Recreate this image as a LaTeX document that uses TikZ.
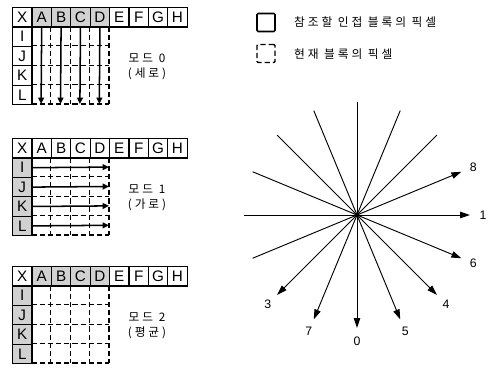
\documentclass[tikz,border=0pt]{standalone}
\usepackage{fontspec}
\setmainfont{Liberation Sans}
\newfontfamily\kr[LetterSpace=25]{Noto Sans CJK KR}
\usetikzlibrary{arrows.meta}

\tikzset{
  plain/.style={},
  shade/.style={fill=black!18},
  cell/.style={draw, line width=1pt, minimum size=0.582cm, inner sep=0pt, anchor=north west,
    font=\fontsize{13}{13}\selectfont},
  curline/.style={line width=1pt, dash pattern=on 4.5pt off 2.5pt},
  flow/.style={line width=1.3pt, -{Triangle[length=5.5pt,width=5pt]}},
  ray/.style={line width=0.8pt},
  dirlabel/.style={font=\fontsize{10.5}{10.5}\selectfont},
  modetext/.style={font=\kr\fontsize{10}{12.5}\selectfont, align=center},
  keytext/.style={font=\kr\fontsize{10}{11}\selectfont, anchor=west}
}

\begin{document}
\begin{tikzpicture}[x=0.03cm, y=0.03cm]
    \useasboundingbox (0,0) rectangle (489,367);

    % mode 0 (vertical)
    \begin{scope}[shift={(12,360)}]
        \foreach \t/\s [count=\i from 0] in {X/plain,A/shade,B/shade,C/shade,D/shade,E/plain,F/plain,G/plain,H/plain}
            \node[cell,\s] (vt\i) at (\i*19.4,0) {\t};
        \foreach \t [count=\j] in {I,J,K,L}
            \node[cell] (vl\j) at (0,-\j*19.4) {\t};
        \foreach \i in {2,...,5}
            \draw[curline] (\i*19.4,-19.4) -- (\i*19.4,-97);
        \foreach \j in {2,...,5}
            \draw[curline] (19.4,-\j*19.4) -- (97,-\j*19.4);
        \foreach \i in {1,...,4} {
            \coordinate (ve\i) at (\i*19.4+9.7,-97);
            \draw[flow] (vt\i.south) -- (ve\i);
        }
    \end{scope}
    \node[modetext] (vtxt) at (147,300) {모드 0\\(세로)};

    % mode 1 (horizontal)
    \begin{scope}[shift={(12,229)}]
        \foreach \t [count=\i from 0] in {X,A,B,C,D,E,F,G,H}
            \node[cell] (ht\i) at (\i*19.4,0) {\t};
        \foreach \t [count=\j] in {I,J,K,L}
            \node[cell,shade] (hl\j) at (0,-\j*19.4) {\t};
        \foreach \i in {2,...,5}
            \draw[curline] (\i*19.4,-19.4) -- (\i*19.4,-97);
        \foreach \j in {2,...,5}
            \draw[curline] (19.4,-\j*19.4) -- (97,-\j*19.4);
        \foreach \j in {1,...,4} {
            \coordinate (he\j) at (97,-\j*19.4-9.7);
            \draw[flow] (hl\j.east) -- (he\j);
        }
    \end{scope}
    \node[modetext] (htxt) at (147,169) {모드 1\\(가로)};

    % mode 2 (mean)
    \begin{scope}[shift={(12,101)}]
        \foreach \t/\s [count=\i from 0] in {X/plain,A/shade,B/shade,C/shade,D/shade,E/plain,F/plain,G/plain,H/plain}
            \node[cell,\s] (mt\i) at (\i*19.4,0) {\t};
        \foreach \t [count=\j] in {I,J,K,L}
            \node[cell,shade] (ml\j) at (0,-\j*19.4) {\t};
        \foreach \i in {2,...,5}
            \draw[curline] (\i*19.4,-19.4) -- (\i*19.4,-97);
        \foreach \j in {2,...,5}
            \draw[curline] (19.4,-\j*19.4) -- (97,-\j*19.4);
    \end{scope}
    \node[modetext] (mtxt) at (147,41) {모드 2\\(평균)};

    % legend
    \node[draw, line width=1.3pt, rounded corners=1pt, minimum size=0.54cm] (keyref) at (266,344.5) {};
    \node[keytext] (keyreftxt) at (290,345) {참조할 인접 블록의 픽셀};
    \node[draw, curline, line width=1.2pt, rounded corners=1pt, minimum size=0.54cm] (keycur) at (266,313.5) {};
    \node[keytext] (keycurtxt) at (290,313) {현재 블록의 픽셀};

    % prediction directions
    \coordinate (o) at (357,152);
    \foreach \a [count=\k] in {45,67.5,90,112.5,135,157.5,180,202.5} {
        \path (o) ++(\a:113) coordinate (p\k);
        \draw[ray] (o) -- (p\k);
    }
    \foreach \a/\n in {0/1,22.5/8,-22.5/6,-45/4,-67.5/5,-90/0,-112.5/7,-135/3} {
        \path (o) ++(\a:113) coordinate (q\n) ++(\a:13) node[dirlabel] (d\n) {\n};
        \draw[ray, -{Triangle[length=8.5pt,width=5.5pt]}] (o) -- (q\n);
    }
    \fill (o) circle (2.5);
\end{tikzpicture}
\end{document}
